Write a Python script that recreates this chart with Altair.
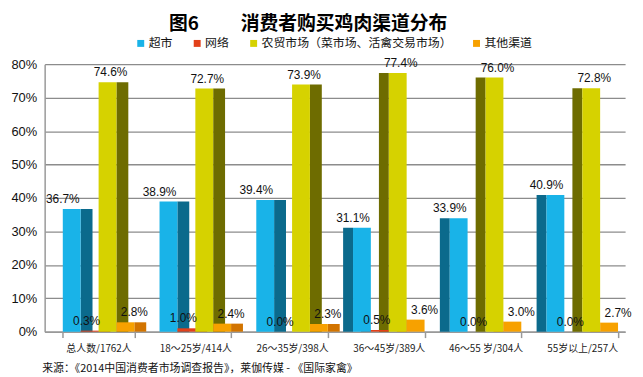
import altair as alt
import pandas as pd

categories = ["总人数/1762人", "18～25岁/414人", "26～35岁/398人",
              "36～45岁/389人", "46～55  岁/304人", "55岁以上/257人"]
series = ["超市", "网络", "农贸市场（菜市场、活禽交易市场）", "其他渠道"]
supermarket = [36.7, 38.9, 39.4, 31.1, 33.9, 40.9]
online = [0.3, 1.0, 0.0, 0.5, 0.0, 0.0]
farm_market = [74.6, 72.7, 73.9, 77.4, 76.0, 72.8]
other = [2.8, 2.4, 2.3, 3.6, 3.0, 2.7]
y_ticks = [0, 0.1, 0.2, 0.3, 0.4, 0.5, 0.6, 0.7, 0.8]

front_colors = ["#19B3E8", "#E2401A", "#D6D200", "#F7A100"]
side_colors = ["#0B6A8C", "#9C2A0E", "#6E6C00", "#D27400"]

rows = []
for s, vals in zip(series, [supermarket, online, farm_market, other]):
    for gi, (c, v) in enumerate(zip(categories, vals)):
        rows.append({"category": c, "series": s, "value": v / 100, "gi": gi})
df = pd.DataFrame(rows)

x_enc = alt.X(
    "category:N", sort=categories,
    scale=alt.Scale(paddingInner=0.26, paddingOuter=0.13, align=0.72),
    axis=alt.Axis(
        title="来源：《2014中国消费者市场调查报告》，莱伽传媒 - 《国际家禽》",
        titleFont="Noto Sans CJK SC", titleFontSize=11, titleFontWeight="normal",
        titleColor="#111", titleAnchor="start", titleAlign="left",
        titleX=-3, titleY=37, titleBaseline="middle",
        labelFont="Noto Sans CJK SC", labelFontSize=10, labelColor="#222",
        labelAngle=0, labelPadding=6, tickBand="extent", tickSize=6,
        tickColor="#999", tickWidth=1.5, domainColor="#999", domainWidth=1.5,
        grid=False,
    ),
)
y_enc = alt.Y(
    "value:Q", scale=alt.Scale(domain=[0, 0.8], nice=False),
    axis=alt.Axis(
        title=None, format=".0%", values=y_ticks, tickSize=0, labelPadding=8,
        labelFont="Liberation Sans", labelFontSize=13, labelColor="#111",
        domainColor="#999", domainWidth=1.5, gridColor="#8c8c8c", gridWidth=1.3,
    ),
)


def offset(shift):
    return alt.XOffset(
        "series:N", sort=series,
        scale=alt.Scale(domain=series, range=[shift, 72.3 + shift],
                        paddingInner=0, paddingOuter=0),
    )


base = alt.Chart(df)
side_color = alt.Color("series:N", scale=alt.Scale(domain=series, range=side_colors),
                       legend=None)

side_right = base.transform_filter("datum.gi <= 2").mark_bar(width=12).encode(
    x=x_enc, xOffset=offset(15), y=y_enc, color=side_color,
)
side_left = base.transform_filter("datum.gi >= 3").mark_bar(width=10).encode(
    x=x_enc, xOffset=offset(-14), y=y_enc, color=side_color,
)
front = base.mark_bar(width=18).encode(
    x=x_enc, xOffset=offset(0), y=y_enc,
    fill=alt.Fill(
        "series:N", sort=series,
        scale=alt.Scale(domain=series, range=front_colors),
        legend=alt.Legend(
            orient="none", legendX=91, legendY=-27, direction="horizontal",
            title=None, symbolType="square", symbolSize=49, symbolStrokeWidth=0,
            labelFont="Noto Sans CJK SC", labelFontSize=12, labelColor="#111",
            labelOffset=2, columnPadding=18, labelLimit=400,
        ),
    ),
)
labels = base.mark_text(
    dy=-10, font="Liberation Sans", fontSize=12, color="#111"
).encode(
    x=x_enc, xOffset=offset(0), y=y_enc,
    text=alt.Text("value:Q", format=".1%"),
)

chart = alt.layer(side_right, side_left, front, labels).resolve_scale(
    color="independent", fill="independent", xOffset="independent"
).properties(
    width=586, height=270,
    padding={"top": 5, "left": 2, "right": 3, "bottom": 0},
    title=alt.Title(
        "图6　　  消费者购买鸡肉渠道分布", font="Noto Sans CJK SC", fontSize=19,
        fontWeight="bold", color="#000", anchor="middle", frame="group",
        dx=-27, offset=4,
    ),
).configure_view(stroke=None)

chart.save("out.html", embed_options={"renderer": "svg", "actions": False})
